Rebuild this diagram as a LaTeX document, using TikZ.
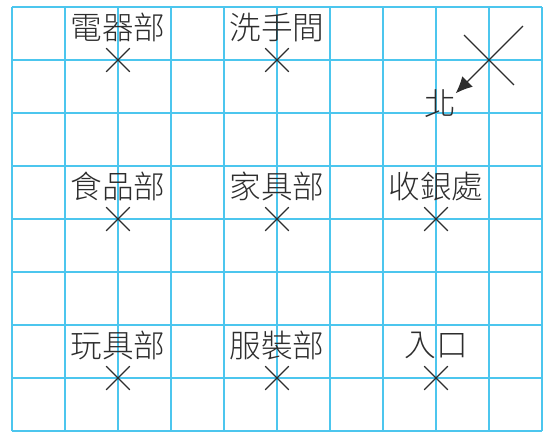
\documentclass[tikz,border=0pt]{standalone}
\usepackage{fontspec}
\setmainfont{Noto Sans CJK TC}[UprightFont={* Light}]
\usetikzlibrary{shapes.misc,arrows.meta}
\definecolor{grid_blue}{RGB}{76, 198, 238}
\definecolor{ink_gray}{RGB}{45, 45, 45}
\tikzstyle{gridline}=[draw=grid_blue,line width=0.8 pt]
\tikzstyle{xmark}=[cross out,draw=ink_gray,line width=0.7 pt,
  inner sep=0pt,minimum width=0.42cm,minimum height=0.42cm]
\tikzstyle{dept}=[text=ink_gray,inner sep=0pt,
  font=\fontsize{17}{18}\selectfont]
\tikzstyle{none}=[]
\begin{document}
\begin{tikzpicture}
    \useasboundingbox (-0.226, -0.01) rectangle (10.132, 8.132);
    \draw [style=gridline] (0, 0) grid (10, 8);
    \node [style=xmark] (0) at (2, 7) {};
    \node [style=xmark] (1) at (5, 7) {};
    \node [style=xmark] (2) at (2, 4) {};
    \node [style=xmark] (3) at (5, 4) {};
    \node [style=xmark] (4) at (8, 4) {};
    \node [style=xmark] (5) at (2, 1) {};
    \node [style=xmark] (6) at (5, 1) {};
    \node [style=xmark] (7) at (8, 1) {};
    \node [style=dept] (8) at (2, 7.61) {電器部};
    \node [style=dept] (9) at (5, 7.61) {洗手間};
    \node [style=dept] (10) at (2, 4.61) {食品部};
    \node [style=dept] (11) at (5, 4.61) {家具部};
    \node [style=dept] (12) at (8, 4.61) {收銀處};
    \node [style=dept] (13) at (2, 1.61) {玩具部};
    \node [style=dept] (14) at (5, 1.61) {服裝部};
    \node [style=dept] (15) at (8, 1.61) {入口};
    \node [style=none] (16) at (8.53, 7.47) {};
    \node [style=none] (17) at (9.47, 6.53) {};
    \node [style=none] (18) at (9.64, 7.64) {};
    \node [style=none] (19) at (8.37, 6.37) {};
    \node [style=dept] (20) at (8.08, 6.18) {北};
    \draw [draw=ink_gray, line width=0.7 pt] (16.center) to (17.center);
    \draw [draw=ink_gray, line width=0.7 pt, -{Latex[length=9pt, width=8pt]}] (18.center) to (19.center);
\end{tikzpicture}
\end{document}
